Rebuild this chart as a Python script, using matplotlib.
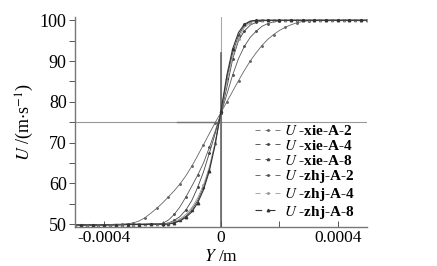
import matplotlib
matplotlib.use("Agg")
import matplotlib.pyplot as plt
from matplotlib.lines import Line2D
import numpy as np

plt.rcParams['font.family'] = ['Liberation Serif', 'DejaVu Serif']
plt.rcParams['mathtext.fontset'] = 'stix'

# Y positions in units of 1e-4 m
y_grid = [-5.0, -4.8, -4.6, -4.4, -4.2, -4.0, -3.8, -3.6, -3.4, -3.2, -3.0, -2.8, -2.6, -2.4, -2.2,
          -2.0, -1.8, -1.6, -1.4, -1.2, -1.0, -0.8, -0.6, -0.4, -0.2, 0.0,
          0.2, 0.4, 0.6, 0.8, 1.0, 1.2, 1.4, 1.6, 1.8, 2.0, 2.2, 2.4, 2.6, 2.8, 3.0,
          3.2, 3.4, 3.6, 3.8, 4.0, 4.2, 4.4, 4.6, 4.8, 5.0]

u_xie_A2 = [49.8, 49.8, 49.8, 49.8, 49.9, 49.9, 49.9, 50.0, 50.0, 50.1, 50.3, 50.8, 51.6, 52.7, 53.9,
            55.2, 56.7, 58.2, 59.9, 61.9, 64.2, 66.8, 69.5, 72.2, 74.9, 77.4,
            80.0, 82.6, 85.2, 87.7, 90.0, 92.0, 93.8, 95.3, 96.5, 97.5, 98.3, 98.9, 99.4, 99.7, 99.9,
            100.0, 100.0, 100.0, 100.0, 100.0, 100.0, 100.0, 100.0, 100.0, 100.0]
u_zhj_A2 = [49.8, 49.8, 49.8, 49.8, 49.8, 49.9, 49.9, 49.9, 49.9, 50.0, 50.0, 50.0, 50.0, 50.0, 50.0,
            50.2, 51.0, 52.4, 54.3, 56.7, 59.3, 62.0, 65.0, 68.8, 72.8, 77.2,
            81.8, 86.6, 90.6, 93.6, 95.8, 97.3, 98.5, 99.2, 99.6, 99.9, 100.0, 100.0, 100.0, 100.0, 100.0,
            100.0, 100.0, 100.0, 100.0, 100.0, 100.0, 100.0, 100.0, 100.0, 100.0]
u_xie_A4 = [49.8, 49.8, 49.8, 49.8, 49.8, 49.8, 49.9, 49.9, 49.9, 49.9, 50.0, 50.0, 50.0, 50.0, 50.0,
            50.0, 50.3, 50.9, 51.9, 53.5, 55.8, 59.0, 62.8, 67.4, 72.2, 77.3,
            83.5, 90.5, 95.0, 97.4, 98.8, 99.5, 99.8, 100.0, 100.0, 100.0, 100.0, 100.0, 100.0, 100.0, 100.0,
            100.0, 100.0, 100.0, 100.0, 100.0, 100.0, 100.0, 100.0, 100.0, 100.0]
u_zhj_A4 = [49.8, 49.8, 49.8, 49.8, 49.8, 49.8, 49.8, 49.9, 49.9, 49.9, 49.9, 50.0, 50.0, 50.0, 50.0,
            50.0, 50.2, 50.6, 51.3, 52.4, 54.0, 56.4, 59.6, 64.0, 70.0, 77.5,
            85.0, 91.0, 95.5, 98.2, 99.4, 99.9, 100.0, 100.0, 100.0, 100.0, 100.0, 100.0, 100.0, 100.0, 100.0,
            100.0, 100.0, 100.0, 100.0, 100.0, 100.0, 100.0, 100.0, 100.0, 100.0]
u_xie_A8 = [49.8, 49.8, 49.8, 49.8, 49.8, 49.8, 49.8, 49.8, 49.9, 49.9, 49.9, 49.9, 50.0, 50.0, 50.0,
            50.0, 50.1, 50.4, 51.0, 52.0, 53.5, 55.8, 59.0, 63.6, 69.8, 77.6,
            85.8, 92.0, 96.3, 98.7, 99.7, 100.0, 100.0, 100.0, 100.0, 100.0, 100.0, 100.0, 100.0, 100.0, 100.0,
            100.0, 100.0, 100.0, 100.0, 100.0, 100.0, 100.0, 100.0, 100.0, 100.0]
u_zhj_A8 = [49.8, 49.8, 49.8, 49.8, 49.8, 49.8, 49.8, 49.8, 49.8, 49.9, 49.9, 49.9, 49.9, 50.0, 50.0,
            50.0, 50.0, 50.3, 50.8, 51.7, 53.0, 55.2, 58.4, 63.0, 69.5, 77.7,
            86.5, 93.0, 97.0, 99.0, 99.8, 100.0, 100.0, 100.0, 100.0, 100.0, 100.0, 100.0, 100.0, 100.0, 100.0,
            100.0, 100.0, 100.0, 100.0, 100.0, 100.0, 100.0, 100.0, 100.0, 100.0]

labels = ['-xie-A-2', '-xie-A-4', '-xie-A-8', '-zhj-A-2', '-zhj-A-4', '-zhj-A-8']
series = [u_xie_A2, u_xie_A4, u_xie_A8, u_zhj_A2, u_zhj_A4, u_zhj_A8]
markers = ['.', '.', '^', '.', '.', '^']
colors = ['#666666', '#444444', '#444444', '#555555', '#999999', '#333333']
msizes = [2.2, 2.2, 1.6, 2.2, 2.2, 1.8]
lwidths = [0.6, 0.6, 0.6, 0.6, 0.6, 0.8]

fig = plt.figure(figsize=(4.37, 2.66), dpi=100)
ax = fig.add_axes([0.1716, 0.1466, 0.6682, 0.7894])

y_m = np.array(y_grid) * 1e-4
for u, mk, c, ms, lw, k in zip(series, markers, colors, msizes, lwidths, range(6)):
    ax.plot(y_m, u, color=c, lw=lw, marker=mk, ms=ms, markevery=(k % 2, 2))

# reference cross lines
ax.axvline(0, color='#aaaaaa', lw=0.8, zorder=0)
ax.plot([0, 0], [49.3, 92], color='#666666', lw=1.2, zorder=0)
ax.axhline(75, color='#999999', lw=0.8, zorder=0)
ax.plot([-0.00015, 0], [75, 75], color='#777777', lw=1.0, zorder=0)

ax.set_xlim(-0.0005, 0.0005)
ax.set_ylim(49.3, 100.8)
ax.set_xticks([-0.0004, 0, 0.0004])
ax.set_xticklabels(['-0.0004', '0', '0.0004'])
ax.set_xticks([-0.0002, 0.0002], minor=True)
ax.set_yticks([50, 60, 70, 80, 90, 100])
ax.set_yticks([55, 65, 75, 85, 95], minor=True)
ax.tick_params(axis='x', which='both', direction='in', length=4, width=0.7, labelsize=12.5, pad=2, colors='#555555', labelcolor='black')
ax.tick_params(axis='y', which='both', direction='out', length=4, width=0.7, labelsize=13, pad=2, colors='#555555', labelcolor='black')
for s in ['top', 'right']:
    ax.spines[s].set_visible(False)
for s in ['left', 'bottom']:
    ax.spines[s].set_color('#777777')
    ax.spines[s].set_linewidth(1.0)

ax.set_xlabel('$Y$ /m', fontsize=12.5, va='bottom')
ax.xaxis.set_label_coords(0.5, -0.183)
ax.set_ylabel('$U$ /(m$\\cdot$s$^{-1}$)', fontsize=13, labelpad=3)

handles = []
for mk, c, ms, lw in zip(markers, colors, msizes, lwidths):
    handles.append(Line2D([0], [0], color=c, lw=lw, marker=mk, ms=ms, dashes=(6, 6)))
leg_labels = ['$U$ ' + l for l in labels]
leg = ax.legend(handles, leg_labels, loc='center left', bbox_to_anchor=(0.615, 0.26),
                frameon=False, handlelength=1.7, handletextpad=0.2,
                labelspacing=0.05, borderpad=0, borderaxespad=0,
                prop={'weight': 'bold', 'size': 11})

fig.savefig('out.png', dpi=100)
